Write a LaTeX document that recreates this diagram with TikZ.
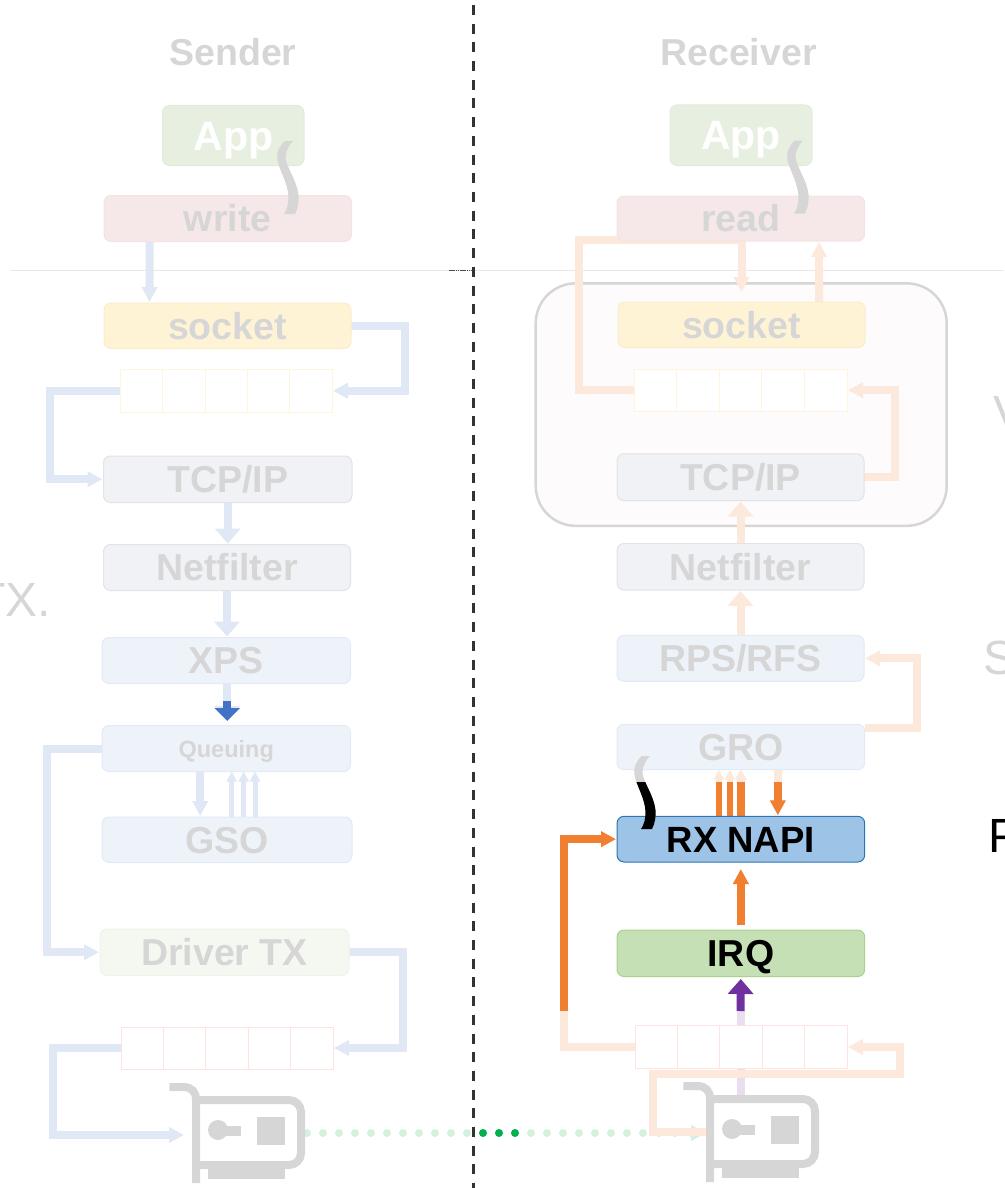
\documentclass[tikz,border=0pt]{standalone}
\usepackage{fontspec}
\setmainfont{Liberation Sans}
\usetikzlibrary{arrows.meta}
\definecolor{txtgray}{HTML}{D6D6D6}
\definecolor{bluel}{HTML}{E0E7F5}
\definecolor{peach}{HTML}{FCE9DC}
\definecolor{orng}{HTML}{F07F30}
\definecolor{darkb}{HTML}{4472C4}
\definecolor{purp}{HTML}{7030A0}
\definecolor{purpl}{HTML}{E8DEEF}
\definecolor{mint}{HTML}{D5F0DF}
\definecolor{grn}{HTML}{00B050}
\pgfdeclarelayer{bg}\pgfdeclarelayer{conn}
\pgfsetlayers{bg,conn,main}
\tikzset{
  x=1pt,y=-1pt,
  pbase/.style={rectangle,rounded corners=7pt,inner sep=0pt,outer sep=0pt,line width=1pt,
    text height=26.5pt,text depth=0pt,text=txtgray,
    font=\bfseries\fontsize{37.5}{40}\selectfont},
  appbox/.style={pbase,fill=AppF,draw=AppD,text=white,text height=29pt,font=\bfseries\fontsize{41}{44}\selectfont},
  redbox/.style={pbase,fill=RedF,draw=RedD},
  yelbox/.style={pbase,fill=YelF,draw=YelD},
  grybox/.style={pbase,fill=GryF,draw=GryD},
  blubox/.style={pbase,fill=BluF,draw=BluD},
  drvbox/.style={pbase,fill=DrvF,draw=DrvD},
  napibox/.style={pbase,fill=NapF,draw=NapD,text=black,font=\bfseries\fontsize{36.5}{40}\selectfont},
  irqbox/.style={pbase,fill=IrqF,draw=IrqD,text=black},
  qbox/.style={rectangle,inner sep=0pt,outer sep=0pt,fill=white,line width=1pt},
  ar/.style={-{Triangle[length=15pt,width=15pt,sep=1pt]},line width=8pt},
  arbig/.style={-{Triangle[length=15pt,width=25pt,sep=1pt]},line width=8pt},
  arthin/.style={-{Triangle[length=10pt,width=10pt]},line width=5pt},
  title/.style={text=txtgray,font=\bfseries\fontsize{37.5}{40}\selectfont,inner sep=0pt},
  side/.style={inner sep=0pt,font=\fontsize{48}{50}\selectfont},
  nicicon/.pic={
    \draw[line width=8pt,txtgray] (169.3,1087) -- (183,1087) .. controls (192,1087) and (196,1092) .. (196,1100) -- (196,1183);
    \draw[line width=8pt,txtgray,rounded corners=12pt] (196,1100) -- (301,1100) -- (301,1165) -- (196,1165);
    \fill[txtgray] (208,1168) rectangle (285,1179);
    \fill[txtgray] (218,1130) circle[radius=10pt];
    \fill[txtgray] (218,1125.5) rectangle (241,1135.5);
    \fill[txtgray] (257,1117) rectangle (285,1145);
  },
  wave/.pic={
    \path[pic actions] (293,141) -- (285,141) .. controls (279,146) and (276,153) .. (277.5,160)
      .. controls (279,170) and (288,183) .. (288.5,197) .. controls (288.5,204) and (287,210) .. (284,214)
      -- (295,214) .. controls (298,208) and (299,202) .. (298.5,195)
      .. controls (297,180) and (285,165) .. (285.5,157) .. controls (286,150) and (289,145) .. (293,141) -- cycle;
  },
}
\definecolor{AppF}{HTML}{E7EFE1}\definecolor{AppD}{HTML}{E2EBDB}
\definecolor{RedF}{HTML}{F6E8E8}\definecolor{RedD}{HTML}{F5E3E3}
\definecolor{YelF}{HTML}{FFF3D6}\definecolor{YelD}{HTML}{FBEDCC}
\definecolor{GryF}{HTML}{F1F2F6}\definecolor{GryD}{HTML}{E2E3E8}
\definecolor{BluF}{HTML}{EEF3FA}\definecolor{BluD}{HTML}{E2EAF5}
\definecolor{DrvF}{HTML}{F4F8F1}\definecolor{DrvD}{HTML}{EEF4EA}
\definecolor{NapF}{HTML}{9DC3E6}\definecolor{NapD}{HTML}{2E75B6}
\definecolor{IrqF}{HTML}{C5E0B4}\definecolor{IrqD}{HTML}{A9D18E}
\definecolor{QYel}{HTML}{FFF4DC}\definecolor{QRed}{HTML}{FFE3E3}
\definecolor{KernF}{HTML}{FDFBFC}
\newcommand{\pbox}[7]{\node[#2,minimum width={(#5)-(#3)},minimum height={(#6)-(#4)}] (#1) at ({((#3)+(#5))/2},{((#4)+(#6))/2}) {#7};}
\newcommand{\qcells}[6]{%
  \node[qbox,draw=#2,minimum width={(#5)-(#3)},minimum height={(#6)-(#4)}] (#1) at ({((#3)+(#5))/2},{((#4)+(#6))/2}) {};
  \foreach \i in {1,2,3,4}{\draw[#2,line width=1pt] ([xshift={\i*((#5)-(#3))/5}]#1.south west) -- ([xshift={\i*((#5)-(#3))/5}]#1.north west);}
}
\begin{document}
\begin{tikzpicture}
\useasboundingbox (0,0) rectangle (1004,1188);
% background
\begin{pgfonlayer}{bg}
  \coordinate (hlA) at (10,270.5); \coordinate (hlB) at (1004,270.5);
  \draw[line width=1pt,black!9] (hlA) -- (hlB);
  \node[rectangle,rounded corners=40pt,draw=txtgray,fill=KernF,line width=2.5pt,inner sep=0pt,
        minimum width=411pt,minimum height=242.5pt] (kbox) at (741.2,404.6) {};
\end{pgfonlayer}
% side texts
\node[side,text=txtgray,anchor=base east] (sideT) at (51,616) {TX.};
\node[side,text=txtgray,anchor=base west] (sideV) at (993,429) {V};
\node[side,text=txtgray,anchor=base west] (sideS) at (983,674) {S};
\node[side,text=black,anchor=base west] (sideP) at (988.5,852) {P};
% titles
\node[title] (tS) at (233,52) {Sender};
\node[title] (tR) at (738.5,52) {Receiver};
% sender boxes
\pbox{appS}{appbox}{162.5}{105.5}{304}{165.5}{App}
\pbox{writeS}{redbox}{104}{195.5}{351.5}{241.5}{write}
\pbox{sockS}{yelbox}{104}{303}{351}{348.5}{socket}
\qcells{qS1}{QYel}{120.5}{369.5}{332}{412}
\pbox{tcpS}{grybox}{103.5}{456}{352}{502.5}{TCP/IP}
\pbox{netS}{grybox}{103.5}{544.5}{350.5}{590.5}{Netfilter}
\pbox{xpsS}{blubox}{102}{637.5}{350.5}{683.5}{XPS}
\node[pbase,fill=BluF,draw=BluD,minimum width=248.5pt,minimum height=46pt,text height=17pt,font=\bfseries\fontsize{23.5}{26}\selectfont] (queS) at (226.25,748.5) {Queuing};
\pbox{gsoS}{blubox}{102}{817}{352}{862.5}{GSO}
\pbox{drvS}{drvbox}{100}{929}{349}{975.5}{Driver TX}
\qcells{qS2}{QRed}{121}{1027}{333}{1069}
\pic (nicA) at (0,0) {nicicon};
% receiver boxes
\pbox{appR}{appbox}{670}{105}{812}{165.5}{App}
\pbox{readR}{redbox}{617}{196}{864.7}{241}{read}
\pbox{sockR}{yelbox}{618}{302}{865}{347.5}{socket}
\qcells{qR1}{QYel}{634}{369}{847}{411.4}
\pbox{tcpR}{grybox}{617}{453.8}{864}{500.7}{TCP/IP}
\pbox{netR}{grybox}{617}{543.5}{864}{590}{Netfilter}
\pbox{rpsR}{blubox}{617}{635.3}{864}{681.3}{RPS/RFS}
\pbox{groR}{blubox}{617}{724.3}{864.7}{769.7}{GRO}
\pbox{napiR}{napibox}{617}{816.3}{864.7}{862}{RX NAPI}
\pbox{irqR}{irqbox}{617}{930}{864.7}{976.5}{IRQ}
\qcells{qR2}{QRed}{635}{1025.7}{847}{1068.3}
\pic (nicB) at (514,-1) {nicicon};
% named free ends
\coordinate (nicSin) at (185,1135);
\coordinate (dotA) at (307,1133);
\coordinate (dotB) at (706,1133);
\coordinate (dotC) at (483,1133);
\coordinate (dotD) at (516,1133);
\coordinate (nicRout) at (706,1132.3);
\coordinate (nicRtop) at (740.5,1095);
\coordinate (irqSplit) at (740.5,1011);
\coordinate (napiSplit) at (564,1011);
% dotted wire
\begin{pgfonlayer}{bg}
  \draw[mint,line width=8pt,line cap=round,dash pattern=on 0pt off 16pt,-{Triangle[length=15pt,width=15pt]}] (dotA) -- (dotB);
  \draw[grn,line width=8pt,line cap=round,dash pattern=on 0pt off 16pt] (dotC) -- (dotD);
\end{pgfonlayer}
% connectors
\begin{pgfonlayer}{conn}
  % sender
  \draw[ar,bluel] ([xshift=-78pt]writeS.south) -- ([xshift=-78pt]sockS.north);
  \draw[ar,bluel] (sockS.east) -- (405,325.75) -- (405,390.75) -- (qS1.east);
  \draw[ar,bluel] (qS1.west) -- (50,390.75) -- (50,479.25) -- (tcpS.west);
  \draw[arbig,bluel] (tcpS.south) -- (tcpS.south |- netS.north);
  \draw[arbig,bluel] (netS.south) -- (netS.south |- xpsS.north);
  \draw[arbig,bluel,shorten >=3.5pt] ([xshift=1pt]xpsS.south) -- ([xshift=1pt]queS.north);
  \draw[-{Triangle[length=13pt,width=25pt,sep=1pt]},line width=8pt,darkb,shorten >=3.5pt] ([xshift=1pt,yshift=-17.5pt]xpsS.south) -- ([xshift=1pt]queS.north);
  \draw[ar,bluel] ([xshift=-26pt]queS.south) -- ([xshift=-26.75pt]gsoS.north);
  \draw[arthin,bluel] ([xshift=4.7pt]gsoS.north) -- ([xshift=5.45pt]queS.south);
  \draw[arthin,bluel] ([xshift=16.7pt]gsoS.north) -- ([xshift=17.45pt]queS.south);
  \draw[arthin,bluel] ([xshift=28pt]gsoS.north) -- ([xshift=28.75pt]queS.south);
  \draw[ar,bluel] (queS.west) -- (47,748.5) -- (47,952.25) -- (drvS.west);
  \draw[ar,bluel] (drvS.east) -- (402.5,952.25) -- (402.5,1048) -- (qS2.east);
  \draw[ar,bluel] (qS2.west) -- (53,1048) -- (53,1135) -- (nicSin);
  % receiver upper
  \draw[ar,peach] (qR1.west) -- (579,390.2) -- (579,240) -- (741.5,240) -- ([yshift=9pt]sockR.north);
  \draw[ar,peach] ([xshift=77.5pt]sockR.north) -- ([xshift=78.3pt]readR.south);
  \draw[ar,peach] (tcpR.east) -- (895,477.25) -- (895,390.2) -- (qR1.east);
  \draw[arbig,peach] (netR.north) -- (tcpR.south);
  \draw[arbig,peach] (rpsR.north) -- (netR.south);
  \draw[ar,peach] (864.7,728.3) -- (917,728.3) -- (917,658.3) -- (rpsR.east);
  % RX NAPI <-> GRO
  \draw[-{Triangle[length=10pt,width=10pt]},line width=5.5pt,peach] ([xshift=-22pt]napiR.north) -- ([xshift=-22pt]groR.south);
  \draw[-{Triangle[length=10pt,width=10pt]},line width=5.5pt,peach] ([xshift=-11pt]napiR.north) -- ([xshift=-11pt]groR.south);
  \draw[-{Triangle[length=10pt,width=12pt]},line width=8pt,peach] (napiR.north) -- (groR.south);
  \draw[ar,peach] ([xshift=37pt]groR.south) -- ([xshift=37pt]napiR.north);
  \draw[line width=5.5pt,orng] ([xshift=-22pt]napiR.north) -- ([xshift=-22pt,yshift=34pt]napiR.north);
  \draw[line width=5.5pt,orng] ([xshift=-11pt]napiR.north) -- ([xshift=-11pt,yshift=34pt]napiR.north);
  \draw[line width=8pt,orng] (napiR.north) -- ([yshift=34pt]napiR.north);
  \draw[ar,orng] ([xshift=37pt,yshift=34pt]napiR.north) -- ([xshift=37pt]napiR.north);
  % IRQ -> NAPI
  \draw[ar,orng,shorten <=5pt,shorten >=6pt] (irqR.north) -- (napiR.south);
  % queue -> NAPI
  \draw[line width=8pt,peach] (qR2.west) -- (564,1047) -- (napiSplit);
  \draw[ar,orng] (napiSplit) -- (564,839.15) -- (napiR.west);
  % NIC -> queue -> IRQ
  \draw[line width=8pt,purpl] (nicRtop) -- (irqSplit);
  \draw[arbig,purp,shorten >=1.5pt] (irqSplit) -- (irqR.south);
  \draw[ar,peach] (nicRout) -- (653,1132.3) -- (653,1073.7) -- (900,1073.7) -- (900,1047) -- (qR2.east);
\end{pgfonlayer}
% small dark tick on the kernel line
\coordinate (tickA) at (449,270.5); \coordinate (tickB) at (473,270.5);
\draw[line width=0.7pt,black!70,dash pattern=on 1.5pt off 0.7pt] (tickA) -- (tickB);
% vertical separator
\coordinate (sepA) at (473.5,5); \coordinate (sepB) at (473.5,1188);
\draw[line width=2.5pt,black!80,dash pattern=on 10pt off 8.7pt] (sepA) -- (sepB);
% squiggles
\pic[fill=txtgray] at (0,0) {wave};
\pic[fill=txtgray] at (510,-0.5) {wave};
\begin{scope}
  \clip (620,700) rectangle (680,782);
  \pic[fill=txtgray] at (357,615) {wave};
\end{scope}
\begin{scope}
  \clip (620,782) rectangle (680,850);
  \pic[fill=black] at (357,615) {wave};
\end{scope}
\end{tikzpicture}
\end{document}
